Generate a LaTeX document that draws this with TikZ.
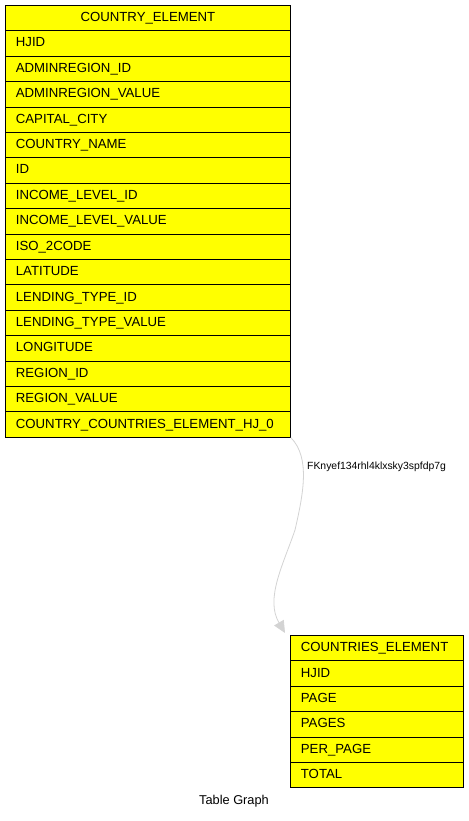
\documentclass[tikz,border=0pt]{standalone}
\usepackage{fontspec}
\setmainfont{Liberation Sans}
\usetikzlibrary{arrows.meta}
\definecolor{tblyellow}{RGB}{255, 255, 0}
\definecolor{fkgray}{RGB}{211, 211, 211}
\tikzset{
    tblcell/.style={draw=black, line width=0.8pt, fill=tblyellow, anchor=north west, minimum height=25.4pt, inner xsep=10.5pt, inner ysep=0pt, text height=9.5pt, text depth=2.5pt, font=\fontsize{13.2}{15}\selectfont},
    bighead/.style={tblcell, text width=264pt, align=center},
    bigrow/.style={tblcell, text width=264pt, align=left},
    smallhead/.style={tblcell, text width=152pt, align=left},
    smallrow/.style={tblcell, text width=152pt, align=left},
    fkedge/.style={draw=fkgray, line width=0.8pt, -{Triangle[length=12pt, width=11pt, fill=fkgray]}},
    fklabel/.style={anchor=west, inner sep=0pt, font=\fontsize{10.4}{12}\selectfont},
    caption/.style={inner sep=0pt, font=\fontsize{12.8}{14}\selectfont}
}
\begin{document}
\begin{tikzpicture}[x=1pt, y=-1pt]
    \useasboundingbox (0,0) rectangle (468,821);
    % COUNTRY_ELEMENT
    \node[bighead] (c0) at (5,5) {COUNTRY\_ELEMENT};
    \foreach \lbl [count=\i from 1] in {HJID, ADMINREGION\_ID, ADMINREGION\_VALUE, CAPITAL\_CITY, COUNTRY\_NAME, ID, INCOME\_LEVEL\_ID, INCOME\_LEVEL\_VALUE, ISO\_2CODE, LATITUDE, LENDING\_TYPE\_ID, LENDING\_TYPE\_VALUE, LONGITUDE, REGION\_ID, REGION\_VALUE, COUNTRY\_COUNTRIES\_ELEMENT\_HJ\_0}
        \node[bigrow] (c\i) at (5, {5+\i*25.4}) {\lbl};
    % COUNTRIES_ELEMENT
    \node[smallhead] (s0) at (290,635) {COUNTRIES\_ELEMENT};
    \foreach \lbl [count=\i from 1] in {HJID, PAGE, PAGES, PER\_PAGE, TOTAL}
        \node[smallrow] (s\i) at (290, {635+\i*25.4}) {\lbl};
    % foreign key
    \coordinate (fkend) at ([xshift=-5pt, yshift=2pt]s0.north west);
    \draw[fkedge] (c16.south east) .. controls +(20,20) and +(8,-35) .. (295,530)
        .. controls +(-12,35) and +(-20,-34) .. (fkend);
    \node[fklabel] (fk) at (307,467) {FKnyef134rhl4klxsky3spfdp7g};
    \node[caption] (title) at (234,801) {Table Graph};
\end{tikzpicture}
\end{document}
